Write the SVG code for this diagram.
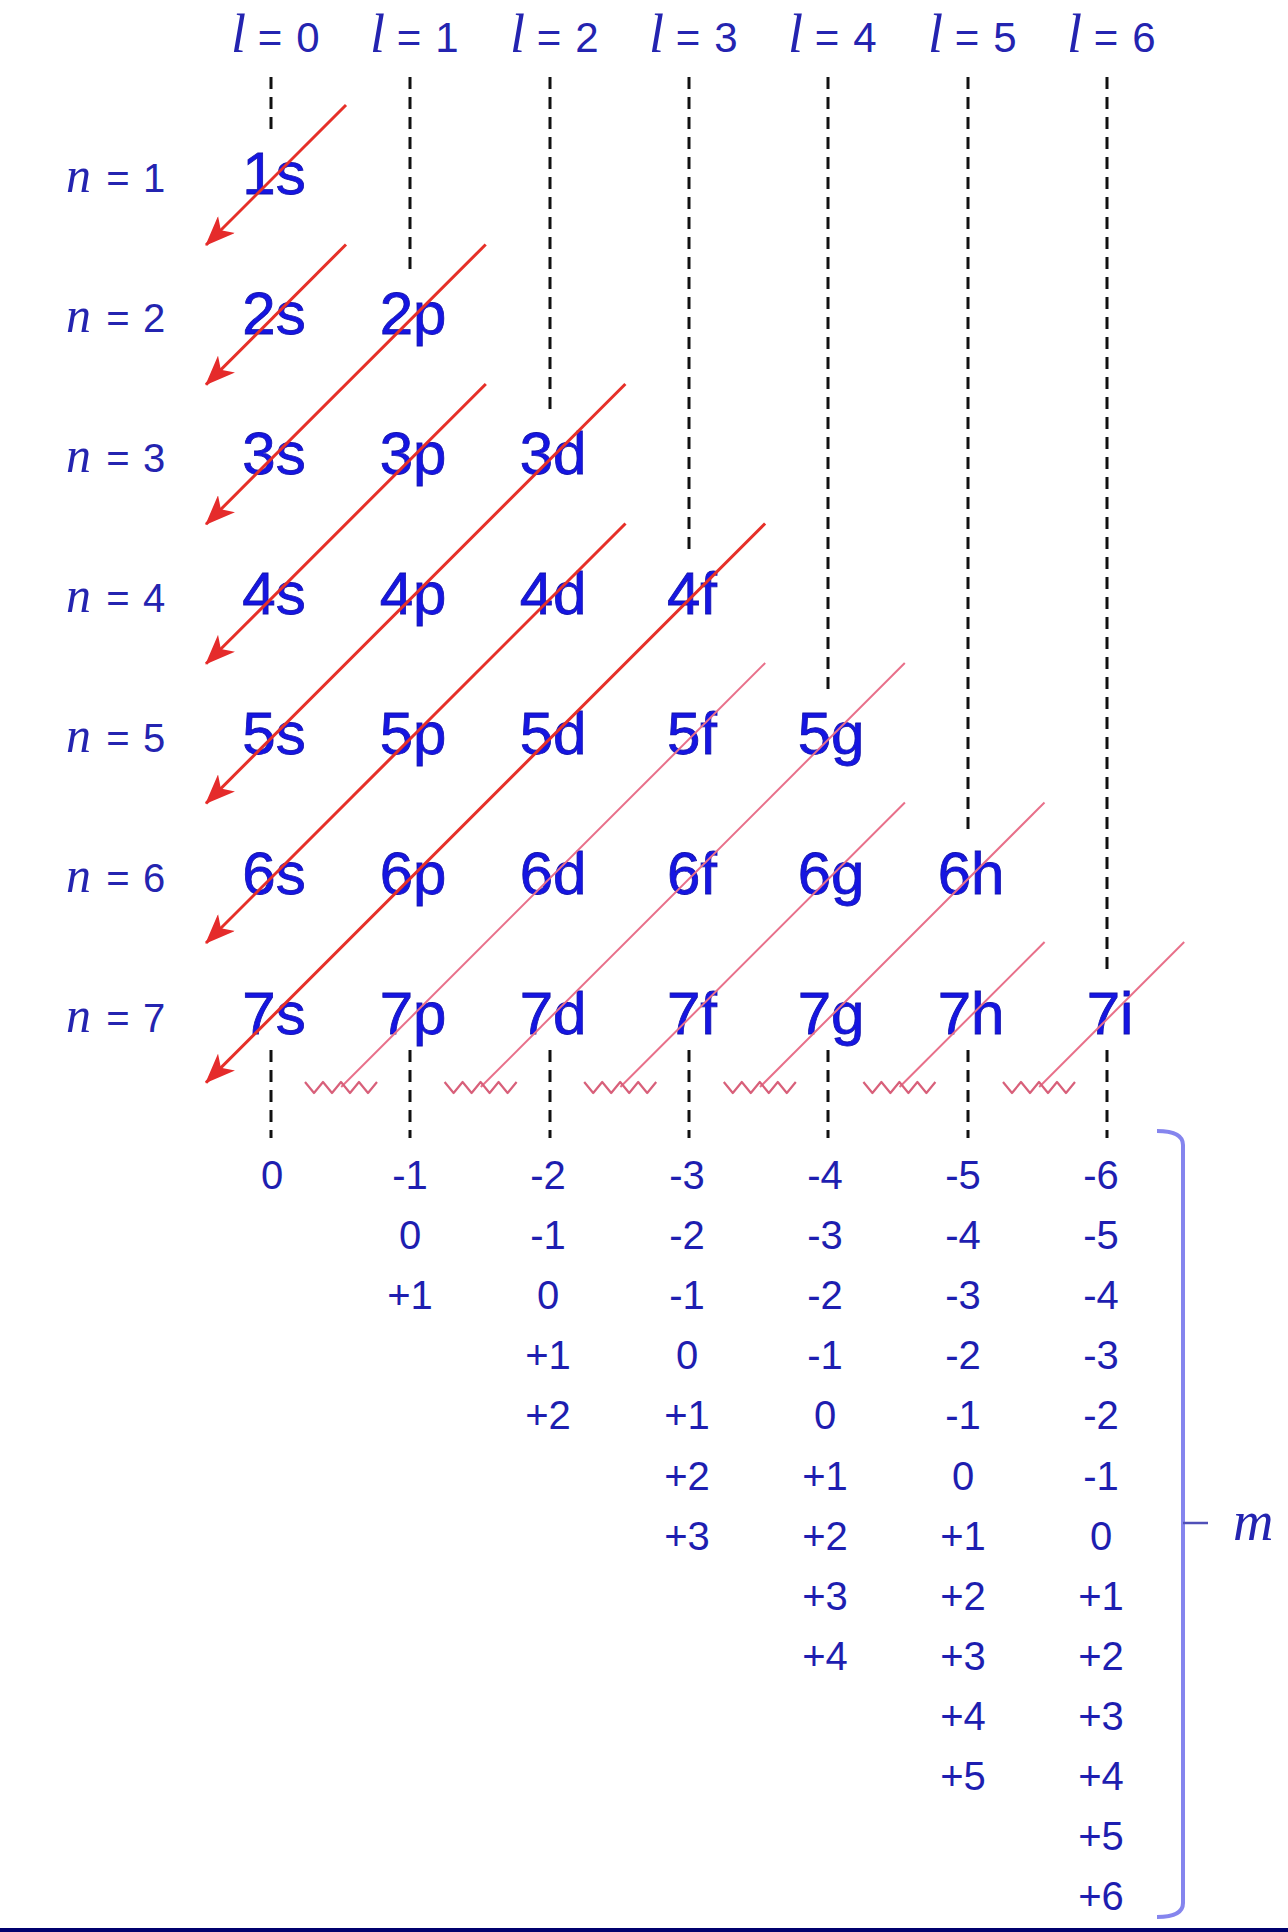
<svg xmlns="http://www.w3.org/2000/svg" xmlns:xlink="http://www.w3.org/1999/xlink" width="1288" height="1932" viewBox="0 0 1288 1932">
<style>
.it{font-family:"Liberation Serif","Times New Roman",serif;font-style:italic;fill:#2424b0}
.lb{font-family:"Liberation Sans",Arial,sans-serif;fill:#2424b0;text-anchor:middle}
.orb{font-family:"Liberation Sans",Arial,sans-serif;font-size:60px;fill:#1515e2;stroke:#1212a8;stroke-width:0.8;text-anchor:middle}
.mv{font-family:"Liberation Sans",Arial,sans-serif;font-size:40px;fill:#1e1eb0;text-anchor:middle}
.dash{stroke:#111;stroke-width:3;stroke-dasharray:12 8;fill:none}
.arr{stroke:#e63028;stroke-width:3;fill:none}
.thin{stroke:#e8708a;stroke-width:2;fill:none}
.zz{stroke:#d8607a;stroke-width:2.2;fill:none;stroke-linejoin:round}
</style>
<defs>
<marker id="ah" markerUnits="userSpaceOnUse" markerWidth="30" markerHeight="24" viewBox="0 0 30 24" refX="29" refY="12" orient="auto">
<path d="M0,0 L30,12 L0,24 L8,12 Z" fill="#e52b2b"/>
</marker>
<path id="zig" d="M0,0 L9,11 L18,0 L27,11 L36,0 L45,11 L54,0 L63,11 L72,0"/>
</defs>
<rect width="1288" height="1932" fill="#fff"/>

<g id="l-labels">
<g id="l0"><text class="it" x="231" y="52" font-size="54">l</text><text class="lb" x="270" y="52" font-size="42">=</text><text class="lb" x="308" y="52" font-size="42">0</text></g>
<g id="l1"><text class="it" x="370" y="52" font-size="54">l</text><text class="lb" x="409" y="52" font-size="42">=</text><text class="lb" x="447" y="52" font-size="42">1</text></g>
<g id="l2"><text class="it" x="510" y="52" font-size="54">l</text><text class="lb" x="549" y="52" font-size="42">=</text><text class="lb" x="587" y="52" font-size="42">2</text></g>
<g id="l3"><text class="it" x="649" y="52" font-size="54">l</text><text class="lb" x="688" y="52" font-size="42">=</text><text class="lb" x="726" y="52" font-size="42">3</text></g>
<g id="l4"><text class="it" x="788" y="52" font-size="54">l</text><text class="lb" x="827" y="52" font-size="42">=</text><text class="lb" x="865" y="52" font-size="42">4</text></g>
<g id="l5"><text class="it" x="928" y="52" font-size="54">l</text><text class="lb" x="967" y="52" font-size="42">=</text><text class="lb" x="1005" y="52" font-size="42">5</text></g>
<g id="l6"><text class="it" x="1067" y="52" font-size="54">l</text><text class="lb" x="1106" y="52" font-size="42">=</text><text class="lb" x="1144" y="52" font-size="42">6</text></g>
</g>

<g id="n-labels">
<g id="n1"><text class="it" x="66" y="192" font-size="50">n</text><text class="lb" x="118" y="192" font-size="40">=</text><text class="lb" x="154" y="192" font-size="40">1</text></g>
<g id="n2"><text class="it" x="66" y="332" font-size="50">n</text><text class="lb" x="118" y="332" font-size="40">=</text><text class="lb" x="154" y="332" font-size="40">2</text></g>
<g id="n3"><text class="it" x="66" y="472" font-size="50">n</text><text class="lb" x="118" y="472" font-size="40">=</text><text class="lb" x="154" y="472" font-size="40">3</text></g>
<g id="n4"><text class="it" x="66" y="612" font-size="50">n</text><text class="lb" x="118" y="612" font-size="40">=</text><text class="lb" x="154" y="612" font-size="40">4</text></g>
<g id="n5"><text class="it" x="66" y="752" font-size="50">n</text><text class="lb" x="118" y="752" font-size="40">=</text><text class="lb" x="154" y="752" font-size="40">5</text></g>
<g id="n6"><text class="it" x="66" y="892" font-size="50">n</text><text class="lb" x="118" y="892" font-size="40">=</text><text class="lb" x="154" y="892" font-size="40">6</text></g>
<g id="n7"><text class="it" x="66" y="1032" font-size="50">n</text><text class="lb" x="118" y="1032" font-size="40">=</text><text class="lb" x="154" y="1032" font-size="40">7</text></g>
</g>

<g id="guides">
<line class="dash" x1="271" y1="77" x2="271" y2="133"/>
<line class="dash" x1="410" y1="77" x2="410" y2="273"/>
<line class="dash" x1="550" y1="77" x2="550" y2="413"/>
<line class="dash" x1="689" y1="77" x2="689" y2="553"/>
<line class="dash" x1="828" y1="77" x2="828" y2="693"/>
<line class="dash" x1="968" y1="77" x2="968" y2="833"/>
<line class="dash" x1="1107" y1="77" x2="1107" y2="973"/>
<line class="dash" x1="271" y1="1050" x2="271" y2="1138"/>
<line class="dash" x1="410" y1="1050" x2="410" y2="1138"/>
<line class="dash" x1="550" y1="1050" x2="550" y2="1138"/>
<line class="dash" x1="689" y1="1050" x2="689" y2="1138"/>
<line class="dash" x1="828" y1="1050" x2="828" y2="1138"/>
<line class="dash" x1="968" y1="1050" x2="968" y2="1138"/>
<line class="dash" x1="1107" y1="1050" x2="1107" y2="1138"/>
</g>

<g id="orbitals">
<text class="orb" x="274" y="194">1s</text>
<text class="orb" x="274" y="334">2s</text><text class="orb" x="413" y="334">2p</text>
<text class="orb" x="274" y="474">3s</text><text class="orb" x="413" y="474">3p</text><text class="orb" x="553" y="474">3d</text>
<text class="orb" x="274" y="614">4s</text><text class="orb" x="413" y="614">4p</text><text class="orb" x="553" y="614">4d</text><text class="orb" x="692" y="614">4f</text>
<text class="orb" x="274" y="754">5s</text><text class="orb" x="413" y="754">5p</text><text class="orb" x="553" y="754">5d</text><text class="orb" x="692" y="754">5f</text><text class="orb" x="831" y="754">5g</text>
<text class="orb" x="274" y="894">6s</text><text class="orb" x="413" y="894">6p</text><text class="orb" x="553" y="894">6d</text><text class="orb" x="692" y="894">6f</text><text class="orb" x="831" y="894">6g</text><text class="orb" x="971" y="894">6h</text>
<text class="orb" x="274" y="1034">7s</text><text class="orb" x="413" y="1034">7p</text><text class="orb" x="553" y="1034">7d</text><text class="orb" x="692" y="1034">7f</text><text class="orb" x="831" y="1034">7g</text><text class="orb" x="971" y="1034">7h</text><text class="orb" x="1110" y="1034">7i</text>
</g>

<g id="connectors">
<line class="arr" x1="346" y1="105" x2="206" y2="245" marker-end="url(#ah)"/>
<line class="arr" x1="346" y1="244.5" x2="206" y2="384.6" marker-end="url(#ah)"/>
<line class="arr" x1="485.7" y1="244.5" x2="206" y2="524.2" marker-end="url(#ah)"/>
<line class="arr" x1="485.8" y1="384" x2="206" y2="663.8" marker-end="url(#ah)"/>
<line class="arr" x1="625.4" y1="384" x2="206" y2="803.4" marker-end="url(#ah)"/>
<line class="arr" x1="625.5" y1="523.5" x2="206" y2="943" marker-end="url(#ah)"/>
<line class="arr" x1="765.1" y1="523.5" x2="206" y2="1082.6" marker-end="url(#ah)"/>
<line class="thin" x1="765.2" y1="663" x2="341.2" y2="1087"/>
<line class="thin" x1="904.8" y1="663" x2="480.8" y2="1087"/>
<line class="thin" x1="904.9" y1="802.5" x2="620.4" y2="1087"/>
<line class="thin" x1="1044.5" y1="802.5" x2="760" y2="1087"/>
<line class="thin" x1="1044.6" y1="942" x2="899.6" y2="1087"/>
<line class="thin" x1="1184.2" y1="942" x2="1039.2" y2="1087"/>
<use xlink:href="#zig" href="#zig" class="zz" transform="translate(305,1082)"/>
<use xlink:href="#zig" href="#zig" class="zz" transform="translate(444.6,1082)"/>
<use xlink:href="#zig" href="#zig" class="zz" transform="translate(584.2,1082)"/>
<use xlink:href="#zig" href="#zig" class="zz" transform="translate(723.8,1082)"/>
<use xlink:href="#zig" href="#zig" class="zz" transform="translate(863.4,1082)"/>
<use xlink:href="#zig" href="#zig" class="zz" transform="translate(1003,1082)"/>
</g>

<g id="m-values">
<g id="m-l0"><text class="mv" x="272" y="1189">0</text></g>
<g id="m-l1"><text class="mv" x="410" y="1189">-1</text><text class="mv" x="410" y="1249">0</text><text class="mv" x="410" y="1309">+1</text></g>
<g id="m-l2"><text class="mv" x="548" y="1189">-2</text><text class="mv" x="548" y="1249">-1</text><text class="mv" x="548" y="1309">0</text><text class="mv" x="548" y="1369">+1</text><text class="mv" x="548" y="1429">+2</text></g>
<g id="m-l3"><text class="mv" x="687" y="1189">-3</text><text class="mv" x="687" y="1249">-2</text><text class="mv" x="687" y="1309">-1</text><text class="mv" x="687" y="1369">0</text><text class="mv" x="687" y="1429">+1</text><text class="mv" x="687" y="1490">+2</text><text class="mv" x="687" y="1550">+3</text></g>
<g id="m-l4"><text class="mv" x="825" y="1189">-4</text><text class="mv" x="825" y="1249">-3</text><text class="mv" x="825" y="1309">-2</text><text class="mv" x="825" y="1369">-1</text><text class="mv" x="825" y="1429">0</text><text class="mv" x="825" y="1490">+1</text><text class="mv" x="825" y="1550">+2</text><text class="mv" x="825" y="1610">+3</text><text class="mv" x="825" y="1670">+4</text></g>
<g id="m-l5"><text class="mv" x="963" y="1189">-5</text><text class="mv" x="963" y="1249">-4</text><text class="mv" x="963" y="1309">-3</text><text class="mv" x="963" y="1369">-2</text><text class="mv" x="963" y="1429">-1</text><text class="mv" x="963" y="1490">0</text><text class="mv" x="963" y="1550">+1</text><text class="mv" x="963" y="1610">+2</text><text class="mv" x="963" y="1670">+3</text><text class="mv" x="963" y="1730">+4</text><text class="mv" x="963" y="1790">+5</text></g>
<g id="m-l6"><text class="mv" x="1101" y="1189">-6</text><text class="mv" x="1101" y="1249">-5</text><text class="mv" x="1101" y="1309">-4</text><text class="mv" x="1101" y="1369">-3</text><text class="mv" x="1101" y="1429">-2</text><text class="mv" x="1101" y="1490">-1</text><text class="mv" x="1101" y="1550">0</text><text class="mv" x="1101" y="1610">+1</text><text class="mv" x="1101" y="1670">+2</text><text class="mv" x="1101" y="1730">+3</text><text class="mv" x="1101" y="1790">+4</text><text class="mv" x="1101" y="1850">+5</text><text class="mv" x="1101" y="1910">+6</text></g>
</g>

<g id="m-brace">
<path d="M1157,1131 Q1183,1131 1183,1145 L1183,1903 Q1183,1917 1157,1917" fill="none" stroke="#8585ee" stroke-width="4"/>
<path d="M1183,1523 L1208,1523" fill="none" stroke="#5050b8" stroke-width="2.5"/>
<text class="it" x="1233" y="1540" font-size="56" fill="#1e1ea0">m</text>
</g>

<rect id="bottom-bar" x="0" y="1928" width="1288" height="4" fill="#00006e"/>
</svg>
